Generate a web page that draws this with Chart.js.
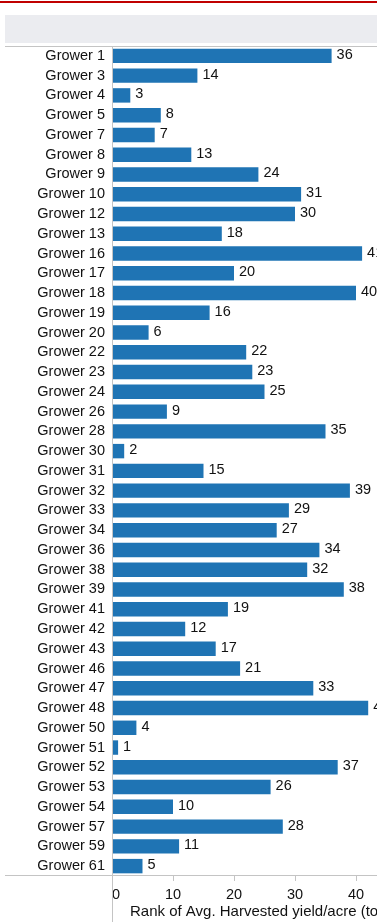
<!DOCTYPE html>
<html>
<head>
<meta charset="utf-8">
<script src="https://cdn.jsdelivr.net/npm/chart.js@4.4.0/dist/chart.umd.min.js"></script>
<style>
html, body { margin: 0; padding: 0; width: 377px; height: 922px; overflow: hidden; background: #fff; }
.top-rule { position: absolute; left: 0; top: 1px; width: 377px; height: 2px; background: #c00000; }
.header-band { position: absolute; left: 5px; top: 15px; width: 372px; height: 28px; background: #ebecf0; }
.chart-wrap { position: absolute; left: 0; top: 0; width: 422px; height: 922px; }
</style>
</head>
<body>
<div class="top-rule"></div>
<div class="header-band"></div>
<div class="chart-wrap"><canvas id="rankChart" width="422" height="922"></canvas></div>
<script>
// growers and their rank values
const growers = ['Grower 1', 'Grower 3', 'Grower 4', 'Grower 5', 'Grower 7', 'Grower 8', 'Grower 9',
  'Grower 10', 'Grower 12', 'Grower 13', 'Grower 16', 'Grower 17', 'Grower 18', 'Grower 19',
  'Grower 20', 'Grower 22', 'Grower 23', 'Grower 24', 'Grower 26', 'Grower 28', 'Grower 30',
  'Grower 31', 'Grower 32', 'Grower 33', 'Grower 34', 'Grower 36', 'Grower 38', 'Grower 39',
  'Grower 41', 'Grower 42', 'Grower 43', 'Grower 46', 'Grower 47', 'Grower 48', 'Grower 50',
  'Grower 51', 'Grower 52', 'Grower 53', 'Grower 54', 'Grower 57', 'Grower 59', 'Grower 61'];
const ranks = [36, 14, 3, 8, 7, 13, 24,
  31, 30, 18, 41, 20, 40, 16,
  6, 22, 23, 25, 9, 35, 2,
  15, 39, 29, 27, 34, 32, 38,
  19, 12, 17, 21, 33, 42, 4,
  1, 37, 26, 10, 28, 11, 5];
const xTicks = [0, 10, 20, 30, 40, 50];
const axisTitle = 'Rank of Avg. Harvested yield/acre (tons)';

const FONT = 'Liberation Sans, Arial, sans-serif';
const LINE = '#c4c4c4';
const TEXT = '#111';

// value labels next to each bar
const valueLabels = {
  id: 'valueLabels',
  afterDatasetsDraw(chart) {
    const ctx = chart.ctx;
    const meta = chart.getDatasetMeta(0);
    ctx.save();
    ctx.font = '14.5px ' + FONT;
    ctx.fillStyle = TEXT;
    ctx.textAlign = 'left';
    ctx.textBaseline = 'middle';
    meta.data.forEach((bar, i) => {
      ctx.fillText(String(ranks[i]), bar.x + 5, bar.y - 1);
    });
    ctx.restore();
  }
};

// frame lines, extended like the original table layout
const frameLines = {
  id: 'frameLines',
  afterDraw(chart) {
    const { ctx, chartArea } = chart;
    ctx.save();
    ctx.strokeStyle = LINE;
    ctx.lineWidth = 1;
    ctx.beginPath();
    ctx.moveTo(5, Math.round(chartArea.top) + 0.5);
    ctx.lineTo(chart.width, Math.round(chartArea.top) + 0.5);
    ctx.moveTo(5, Math.round(chartArea.bottom) - 0.5);
    ctx.lineTo(chart.width, Math.round(chartArea.bottom) - 0.5);
    ctx.moveTo(Math.round(chartArea.left) + 0.5, chartArea.top);
    ctx.lineTo(Math.round(chartArea.left) + 0.5, chart.height);
    ctx.stroke();
    ctx.restore();
  }
};

new Chart(document.getElementById('rankChart'), {
  type: 'bar',
  data: {
    labels: growers,
    datasets: [{
      data: ranks,
      backgroundColor: '#1f74b4',
      barPercentage: 0.73,
      categoryPercentage: 1
    }]
  },
  options: {
    indexAxis: 'y',
    responsive: false,
    animation: false,
    layout: { padding: { top: 46, bottom: 0, left: 0, right: 3 } },
    plugins: { legend: { display: false }, tooltip: { enabled: false } },
    scales: {
      y: {
        type: 'category',
        afterFit(scale) { scale.width = 112; },
        grid: { display: false, drawTicks: false },
        border: { display: false },
        ticks: { color: TEXT, padding: 7, autoSkip: false, font: { family: FONT, size: 14.5 } }
      },
      x: {
        min: 0,
        max: 50,
        afterFit(scale) { scale.height = 46; },
        afterBuildTicks(scale) { scale.ticks = xTicks.map(v => ({ value: v })); },
        grid: { drawOnChartArea: false, drawTicks: true, tickLength: 5, color: LINE },
        border: { display: false },
        ticks: { color: TEXT, padding: 5, align: 'inner', autoSkip: false, maxRotation: 0, font: { family: FONT, size: 14.5 } },
        title: { display: true, text: axisTitle, color: TEXT, padding: { top: 0, bottom: 1 }, font: { family: FONT, size: 15 } }
      }
    }
  },
  plugins: [valueLabels, frameLines]
});
</script>
</body>
</html>
